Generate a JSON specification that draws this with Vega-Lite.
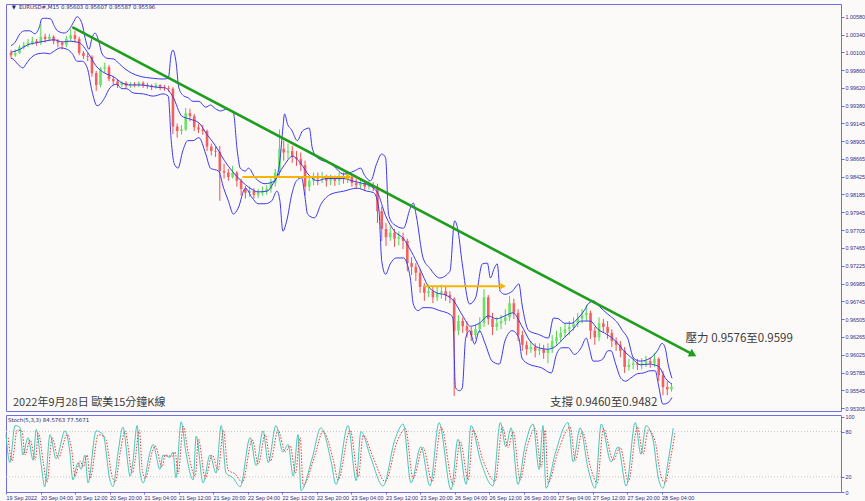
{
"$schema": "https://vega.github.io/schema/vega-lite/v6.json",
"background": "#fcfaf8",
"padding": {"left": 3, "top": 3, "right": 0, "bottom": 0},
"spacing": 1,
"config": {
  "view": {"stroke": "#7070dc", "strokeWidth": 1, "fill": "#fcfaf8"},
  "axis": {"labelFont": "Liberation Sans", "labelFontSize": 5.4, "labelColor": "#2e2e8a", "tickColor": "#6a6ad8", "domain": false, "grid": false, "labelOverlap": false},
  "text": {"font": "Liberation Sans"}
},
"datasets": {
"c": [
{"h":0,"o":1.0009,"hi":1.0013,"lo":1.0002,"c":1.0006},{"h":1,"o":1.0006,"hi":1.0014,"lo":1.0004,"c":1.0009},{"h":2,"o":1.0009,"hi":1.0020,"lo":1.0008,"c":1.0017},{"h":3,"o":1.0017,"hi":1.0024,"lo":1.0014,"c":1.0020},{"h":4,"o":1.0020,"hi":1.0028,"lo":1.0017,"c":1.0023},{"h":5,"o":1.0023,"hi":1.0031,"lo":1.0020,"c":1.0025},{"h":6,"o":1.0025,"hi":1.0028,"lo":1.0019,"c":1.0023},{"h":7,"o":1.0023,"hi":1.0048,"lo":1.0020,"c":1.0031},{"h":8,"o":1.0031,"hi":1.0035,"lo":1.0023,"c":1.0028},{"h":9,"o":1.0028,"hi":1.0035,"lo":1.0025,"c":1.0031},
{"h":10,"o":1.0031,"hi":1.0033,"lo":1.0021,"c":1.0025},{"h":11,"o":1.0025,"hi":1.0028,"lo":1.0017,"c":1.0023},{"h":12,"o":1.0023,"hi":1.0025,"lo":1.0014,"c":1.0020},{"h":13,"o":1.0020,"hi":1.0032,"lo":1.0017,"c":1.0028},{"h":14,"o":1.0028,"hi":1.0041,"lo":1.0025,"c":1.0033},{"h":15,"o":1.0033,"hi":1.0039,"lo":1.0023,"c":1.0028},{"h":16,"o":1.0028,"hi":1.0031,"lo":1.0006,"c":1.0009},{"h":17,"o":1.0009,"hi":1.0012,"lo":1.0001,"c":1.0005},{"h":18,"o":1.0005,"hi":1.0009,"lo":0.9998,"c":1.0004},{"h":19,"o":1.0004,"hi":1.0006,"lo":0.9977,"c":0.9982},
{"h":20,"o":0.9982,"hi":0.9985,"lo":0.9958,"c":0.9966},{"h":21,"o":0.9966,"hi":0.9990,"lo":0.9963,"c":0.9988},{"h":22,"o":0.9988,"hi":0.9996,"lo":0.9982,"c":0.9990},{"h":23,"o":0.9990,"hi":0.9993,"lo":0.9971,"c":0.9974},{"h":24,"o":0.9974,"hi":0.9978,"lo":0.9966,"c":0.9971},{"h":25,"o":0.9971,"hi":0.9974,"lo":0.9962,"c":0.9966},{"h":26,"o":0.9966,"hi":0.9971,"lo":0.9963,"c":0.9969},{"h":27,"o":0.9969,"hi":0.9971,"lo":0.9961,"c":0.9965},{"h":28,"o":0.9965,"hi":0.9970,"lo":0.9962,"c":0.9967},{"h":29,"o":0.9967,"hi":0.9970,"lo":0.9963,"c":0.9966},
{"h":30,"o":0.9966,"hi":0.9971,"lo":0.9963,"c":0.9969},{"h":31,"o":0.9969,"hi":0.9971,"lo":0.9962,"c":0.9966},{"h":32,"o":0.9966,"hi":0.9969,"lo":0.9961,"c":0.9965},{"h":33,"o":0.9965,"hi":0.9967,"lo":0.9959,"c":0.9963},{"h":34,"o":0.9963,"hi":0.9969,"lo":0.9961,"c":0.9966},{"h":35,"o":0.9966,"hi":0.9967,"lo":0.9959,"c":0.9963},{"h":36,"o":0.9963,"hi":0.9966,"lo":0.9958,"c":0.9962},{"h":37,"o":0.9962,"hi":0.9965,"lo":0.9957,"c":0.9961},{"h":38,"o":0.9961,"hi":0.9963,"lo":0.9900,"c":0.9910},{"h":39,"o":0.9910,"hi":0.9914,"lo":0.9895,"c":0.9904},
{"h":40,"o":0.9904,"hi":0.9912,"lo":0.9899,"c":0.9906},{"h":41,"o":0.9906,"hi":0.9935,"lo":0.9904,"c":0.9928},{"h":42,"o":0.9928,"hi":0.9934,"lo":0.9917,"c":0.9924},{"h":43,"o":0.9924,"hi":0.9927,"lo":0.9904,"c":0.9909},{"h":44,"o":0.9909,"hi":0.9914,"lo":0.9901,"c":0.9906},{"h":45,"o":0.9906,"hi":0.9912,"lo":0.9899,"c":0.9904},{"h":46,"o":0.9904,"hi":0.9906,"lo":0.9877,"c":0.9883},{"h":47,"o":0.9883,"hi":0.9887,"lo":0.9871,"c":0.9877},{"h":48,"o":0.9877,"hi":0.9883,"lo":0.9869,"c":0.9876},{"h":49,"o":0.9876,"hi":0.9884,"lo":0.9810,"c":0.9850},
{"h":50,"o":0.9850,"hi":0.9860,"lo":0.9840,"c":0.9848},{"h":51,"o":0.9848,"hi":0.9853,"lo":0.9837,"c":0.9842},{"h":52,"o":0.9842,"hi":0.9857,"lo":0.9840,"c":0.9848},{"h":53,"o":0.9848,"hi":0.9850,"lo":0.9829,"c":0.9837},{"h":54,"o":0.9837,"hi":0.9840,"lo":0.9817,"c":0.9826},{"h":55,"o":0.9826,"hi":0.9830,"lo":0.9813,"c":0.9821},{"h":56,"o":0.9821,"hi":0.9829,"lo":0.9815,"c":0.9823},{"h":57,"o":0.9823,"hi":0.9827,"lo":0.9813,"c":0.9818},{"h":58,"o":0.9818,"hi":0.9826,"lo":0.9814,"c":0.9821},{"h":59,"o":0.9821,"hi":0.9829,"lo":0.9817,"c":0.9823},
{"h":60,"o":0.9823,"hi":0.9831,"lo":0.9818,"c":0.9826},{"h":61,"o":0.9826,"hi":0.9840,"lo":0.9821,"c":0.9834},{"h":62,"o":0.9834,"hi":0.9853,"lo":0.9829,"c":0.9848},{"h":63,"o":0.9848,"hi":0.9906,"lo":0.9844,"c":0.9880},{"h":64,"o":0.9880,"hi":0.9891,"lo":0.9864,"c":0.9875},{"h":65,"o":0.9875,"hi":0.9887,"lo":0.9866,"c":0.9877},{"h":66,"o":0.9877,"hi":0.9884,"lo":0.9861,"c":0.9869},{"h":67,"o":0.9869,"hi":0.9877,"lo":0.9857,"c":0.9866},{"h":68,"o":0.9866,"hi":0.9875,"lo":0.9850,"c":0.9858},{"h":69,"o":0.9858,"hi":0.9864,"lo":0.9817,"c":0.9829},
{"h":70,"o":0.9829,"hi":0.9842,"lo":0.9823,"c":0.9837},{"h":71,"o":0.9837,"hi":0.9848,"lo":0.9831,"c":0.9842},{"h":72,"o":0.9842,"hi":0.9848,"lo":0.9831,"c":0.9840},{"h":73,"o":0.9840,"hi":0.9849,"lo":0.9834,"c":0.9842},{"h":74,"o":0.9842,"hi":0.9845,"lo":0.9829,"c":0.9837},{"h":75,"o":0.9837,"hi":0.9845,"lo":0.9831,"c":0.9840},{"h":76,"o":0.9840,"hi":0.9844,"lo":0.9830,"c":0.9837},{"h":77,"o":0.9837,"hi":0.9848,"lo":0.9831,"c":0.9842},{"h":78,"o":0.9842,"hi":0.9848,"lo":0.9833,"c":0.9840},{"h":79,"o":0.9840,"hi":0.9850,"lo":0.9834,"c":0.9842},
{"h":80,"o":0.9842,"hi":0.9845,"lo":0.9829,"c":0.9834},{"h":81,"o":0.9834,"hi":0.9840,"lo":0.9826,"c":0.9831},{"h":82,"o":0.9831,"hi":0.9838,"lo":0.9826,"c":0.9834},{"h":83,"o":0.9834,"hi":0.9837,"lo":0.9823,"c":0.9829},{"h":84,"o":0.9829,"hi":0.9837,"lo":0.9825,"c":0.9831},{"h":85,"o":0.9831,"hi":0.9835,"lo":0.9823,"c":0.9829},{"h":86,"o":0.9829,"hi":0.9833,"lo":0.9780,"c":0.9796},{"h":87,"o":0.9796,"hi":0.9802,"lo":0.9756,"c":0.9772},{"h":88,"o":0.9772,"hi":0.9780,"lo":0.9749,"c":0.9761},{"h":89,"o":0.9761,"hi":0.9775,"lo":0.9756,"c":0.9767},
{"h":90,"o":0.9767,"hi":0.9772,"lo":0.9748,"c":0.9759},{"h":91,"o":0.9759,"hi":0.9769,"lo":0.9750,"c":0.9761},{"h":92,"o":0.9761,"hi":0.9767,"lo":0.9745,"c":0.9756},{"h":93,"o":0.9756,"hi":0.9759,"lo":0.9715,"c":0.9726},{"h":94,"o":0.9726,"hi":0.9734,"lo":0.9710,"c":0.9721},{"h":95,"o":0.9721,"hi":0.9726,"lo":0.9702,"c":0.9713},{"h":96,"o":0.9713,"hi":0.9718,"lo":0.9686,"c":0.9694},{"h":97,"o":0.9694,"hi":0.9699,"lo":0.9675,"c":0.9686},{"h":98,"o":0.9686,"hi":0.9697,"lo":0.9680,"c":0.9688},{"h":99,"o":0.9688,"hi":0.9694,"lo":0.9672,"c":0.9680},
{"h":100,"o":0.9680,"hi":0.9694,"lo":0.9675,"c":0.9686},{"h":101,"o":0.9686,"hi":0.9697,"lo":0.9678,"c":0.9688},{"h":102,"o":0.9688,"hi":0.9694,"lo":0.9675,"c":0.9683},{"h":103,"o":0.9683,"hi":0.9688,"lo":0.9672,"c":0.9680},{"h":104,"o":0.9678,"hi":0.9680,"lo":0.9547,"c":0.9635},{"h":105,"o":0.9635,"hi":0.9656,"lo":0.9629,"c":0.9648},{"h":106,"o":0.9648,"hi":0.9653,"lo":0.9632,"c":0.9641},{"h":107,"o":0.9641,"hi":0.9648,"lo":0.9626,"c":0.9635},{"h":108,"o":0.9635,"hi":0.9640,"lo":0.9621,"c":0.9629},{"h":109,"o":0.9629,"hi":0.9643,"lo":0.9624,"c":0.9637},
{"h":110,"o":0.9637,"hi":0.9653,"lo":0.9632,"c":0.9645},{"h":111,"o":0.9645,"hi":0.9691,"lo":0.9640,"c":0.9680},{"h":112,"o":0.9680,"hi":0.9683,"lo":0.9643,"c":0.9651},{"h":113,"o":0.9651,"hi":0.9659,"lo":0.9629,"c":0.9640},{"h":114,"o":0.9640,"hi":0.9653,"lo":0.9635,"c":0.9645},{"h":115,"o":0.9645,"hi":0.9656,"lo":0.9637,"c":0.9648},{"h":116,"o":0.9648,"hi":0.9664,"lo":0.9643,"c":0.9653},{"h":117,"o":0.9653,"hi":0.9682,"lo":0.9648,"c":0.9672},{"h":118,"o":0.9672,"hi":0.9678,"lo":0.9651,"c":0.9659},{"h":119,"o":0.9659,"hi":0.9664,"lo":0.9621,"c":0.9629},
{"h":120,"o":0.9629,"hi":0.9635,"lo":0.9608,"c":0.9616},{"h":121,"o":0.9616,"hi":0.9621,"lo":0.9602,"c":0.9610},{"h":122,"o":0.9610,"hi":0.9621,"lo":0.9605,"c":0.9613},{"h":123,"o":0.9613,"hi":0.9618,"lo":0.9599,"c":0.9608},{"h":124,"o":0.9608,"hi":0.9618,"lo":0.9602,"c":0.9610},{"h":125,"o":0.9610,"hi":0.9616,"lo":0.9597,"c":0.9605},{"h":126,"o":0.9605,"hi":0.9618,"lo":0.9591,"c":0.9610},{"h":127,"o":0.9610,"hi":0.9629,"lo":0.9605,"c":0.9621},{"h":128,"o":0.9621,"hi":0.9635,"lo":0.9616,"c":0.9626},{"h":129,"o":0.9626,"hi":0.9640,"lo":0.9621,"c":0.9632},
{"h":130,"o":0.9632,"hi":0.9645,"lo":0.9626,"c":0.9637},{"h":131,"o":0.9637,"hi":0.9648,"lo":0.9629,"c":0.9640},{"h":132,"o":0.9640,"hi":0.9653,"lo":0.9635,"c":0.9645},{"h":133,"o":0.9645,"hi":0.9659,"lo":0.9640,"c":0.9651},{"h":134,"o":0.9651,"hi":0.9664,"lo":0.9645,"c":0.9656},{"h":135,"o":0.9656,"hi":0.9670,"lo":0.9648,"c":0.9659},{"h":136,"o":0.9659,"hi":0.9662,"lo":0.9624,"c":0.9635},{"h":137,"o":0.9635,"hi":0.9640,"lo":0.9616,"c":0.9626},{"h":138,"o":0.9626,"hi":0.9653,"lo":0.9621,"c":0.9645},{"h":139,"o":0.9645,"hi":0.9651,"lo":0.9632,"c":0.9640},
{"h":140,"o":0.9640,"hi":0.9648,"lo":0.9624,"c":0.9632},{"h":141,"o":0.9632,"hi":0.9637,"lo":0.9613,"c":0.9621},{"h":142,"o":0.9621,"hi":0.9626,"lo":0.9608,"c":0.9616},{"h":143,"o":0.9616,"hi":0.9621,"lo":0.9599,"c":0.9608},{"h":144,"o":0.9608,"hi":0.9613,"lo":0.9578,"c":0.9586},{"h":145,"o":0.9586,"hi":0.9597,"lo":0.9581,"c":0.9589},{"h":146,"o":0.9589,"hi":0.9599,"lo":0.9583,"c":0.9591},{"h":147,"o":0.9591,"hi":0.9597,"lo":0.9582,"c":0.9589},{"h":148,"o":0.9589,"hi":0.9598,"lo":0.9583,"c":0.9591},{"h":149,"o":0.9591,"hi":0.9601,"lo":0.9586,"c":0.9594},
{"h":150,"o":0.9594,"hi":0.9599,"lo":0.9585,"c":0.9591},{"h":151,"o":0.9591,"hi":0.9605,"lo":0.9586,"c":0.9597},{"h":152,"o":0.9597,"hi":0.9599,"lo":0.9567,"c":0.9575},{"h":153,"o":0.9575,"hi":0.9581,"lo":0.9548,"c":0.9559},{"h":154,"o":0.9559,"hi":0.9567,"lo":0.9548,"c":0.9556},{"h":155,"o":0.9556,"hi":0.9564,"lo":0.9553,"c":0.95596}
],
"b": [
{"b":"u","h":0,"p":1.0019},{"b":"u","h":0.9,"p":1.0023},{"b":"u","h":2.1,"p":1.0035},{"b":"u","h":3.2,"p":1.0039},{"b":"u","h":4.4,"p":1.0039},{"b":"u","h":5.6,"p":1.0035},{"b":"u","h":6.7,"p":1.0045},{"b":"u","h":7.2,"p":1.0055},{"b":"u","h":7.9,"p":1.0056},{"b":"u","h":9.3,"p":1.0055},{"b":"u","h":10.2,"p":1.0045},{"b":"u","h":10.9,"p":1.0039},{"b":"u","h":12.5,"p":1.0036},{"b":"u","h":13.7,"p":1.0041},{"b":"u","h":14.8,"p":1.0052},{"b":"u","h":15.5,"p":1.0058},{"b":"u","h":16.7,"p":1.0048},{"b":"u","h":17.4,"p":1.0029},{"b":"u","h":18.3,"p":1.0014},{"b":"u","h":19.0,"p":1.0029},{"b":"u","h":19.7,"p":1.0036},{"b":"u","h":20.6,"p":1.0025},{"b":"u","h":21.3,"p":1.0009},{"b":"u","h":22.5,"p":1.0002},{"b":"u","h":24.1,"p":1.0001},{"b":"u","h":25.5,"p":0.9994},{"b":"u","h":26.7,"p":0.9988},{"b":"u","h":28.3,"p":0.9982},{"b":"u","h":30.1,"p":0.9978},{"b":"u","h":33.4,"p":0.9975},{"b":"u","h":35.7,"p":0.9974},{"b":"u","h":36.9,"p":0.9975},{"b":"u","h":37.6,"p":1.0008},{"b":"u","h":38.0,"p":1.0013},{"b":"u","h":38.7,"p":0.9998},{"b":"u","h":39.4,"p":0.9962},{"b":"u","h":40.6,"p":0.9951},{"b":"u","h":41.5,"p":0.9949},{"b":"u","h":42.7,"p":0.9944},{"b":"u","h":44.1,"p":0.9944},{"b":"u","h":45.7,"p":0.9936},{"b":"u","h":46.8,"p":0.9939},{"b":"u","h":48.0,"p":0.9934},{"b":"u","h":49.2,"p":0.9931},{"b":"u","h":50.8,"p":0.9934},{"b":"u","h":52.2,"p":0.9928},{"b":"u","h":53.1,"p":0.9877},{"b":"u","h":53.8,"p":0.9854},{"b":"u","h":55.0,"p":0.9850},{"b":"u","h":55.7,"p":0.9854},{"b":"u","h":57.3,"p":0.9841},{"b":"u","h":59.6,"p":0.9833},{"b":"u","h":61.9,"p":0.9837},{"b":"u","h":63.1,"p":0.9864},{"b":"u","h":63.8,"p":0.9908},{"b":"u","h":64.2,"p":0.9927},{"b":"u","h":64.9,"p":0.9913},{"b":"u","h":65.8,"p":0.9906},{"b":"u","h":67.2,"p":0.9891},{"b":"u","h":68.4,"p":0.9904},{"b":"u","h":70.0,"p":0.9908},{"b":"u","h":70.7,"p":0.9881},{"b":"u","h":71.9,"p":0.9868},{"b":"u","h":75.1,"p":0.9860},{"b":"u","h":78.1,"p":0.9846},{"b":"u","h":80.5,"p":0.9850},{"b":"u","h":82.1,"p":0.9854},{"b":"u","h":82.8,"p":0.9846},{"b":"u","h":84.4,"p":0.9837},{"b":"u","h":85.8,"p":0.9860},{"b":"u","h":87.0,"p":0.9873},{"b":"u","h":87.9,"p":0.9868},{"b":"u","h":88.6,"p":0.9792},{"b":"u","h":89.7,"p":0.9779},{"b":"u","h":92.1,"p":0.9773},{"b":"u","h":93.7,"p":0.9800},{"b":"u","h":94.4,"p":0.9807},{"b":"u","h":95.1,"p":0.9790},{"b":"u","h":96.7,"p":0.9733},{"b":"u","h":98.3,"p":0.9719},{"b":"u","h":100.6,"p":0.9706},{"b":"u","h":103.0,"p":0.9715},{"b":"u","h":104.1,"p":0.9783},{"b":"u","h":104.8,"p":0.9773},{"b":"u","h":105.9,"p":0.9725},{"b":"u","h":107.6,"p":0.9671},{"b":"u","h":109.0,"p":0.9679},{"b":"u","h":110.6,"p":0.9725},{"b":"u","h":111.8,"p":0.9726},{"b":"u","h":112.5,"p":0.9706},{"b":"u","h":113.4,"p":0.9719},{"b":"u","h":114.1,"p":0.9725},{"b":"u","h":114.8,"p":0.9688},{"b":"u","h":115.9,"p":0.9684},{"b":"u","h":117.6,"p":0.9688},{"b":"u","h":119.2,"p":0.9698},{"b":"u","h":119.9,"p":0.9671},{"b":"u","h":121.5,"p":0.9635},{"b":"u","h":123.8,"p":0.9630},{"b":"u","h":126.1,"p":0.9625},{"b":"u","h":127.3,"p":0.9652},{"b":"u","h":128.5,"p":0.9651},{"b":"u","h":129.9,"p":0.9645},{"b":"u","h":131.5,"p":0.9645},{"b":"u","h":133.1,"p":0.9652},{"b":"u","h":134.5,"p":0.9662},{"b":"u","h":135.6,"p":0.9672},{"b":"u","h":136.8,"p":0.9675},{"b":"u","h":138.0,"p":0.9668},{"b":"u","h":140.1,"p":0.9657},{"b":"u","h":141.2,"p":0.9652},{"b":"u","h":142.4,"p":0.9645},{"b":"u","h":143.5,"p":0.9635},{"b":"u","h":144.7,"p":0.9625},{"b":"u","h":146.1,"p":0.9598},{"b":"u","h":147.7,"p":0.9594},{"b":"u","h":150.0,"p":0.9598},{"b":"u","h":151.7,"p":0.9608},{"b":"u","h":152.8,"p":0.9618},{"b":"u","h":153.5,"p":0.9612},{"b":"u","h":154.2,"p":0.9590},{"b":"u","h":155.1,"p":0.9571},
{"b":"l","h":0,"p":1.0002},{"b":"l","h":0.5,"p":1.0001},{"b":"l","h":1.6,"p":0.9994},{"b":"l","h":2.8,"p":0.9989},{"b":"l","h":3.5,"p":0.9994},{"b":"l","h":4.4,"p":1.0001},{"b":"l","h":6.3,"p":1.0008},{"b":"l","h":7.9,"p":1.0009},{"b":"l","h":9.0,"p":1.0008},{"b":"l","h":10.2,"p":1.0012},{"b":"l","h":11.6,"p":1.0016},{"b":"l","h":13.2,"p":1.0014},{"b":"l","h":14.4,"p":1.0008},{"b":"l","h":15.5,"p":0.9998},{"b":"l","h":16.7,"p":0.9998},{"b":"l","h":17.9,"p":0.9989},{"b":"l","h":19.0,"p":0.9958},{"b":"l","h":20.2,"p":0.9938},{"b":"l","h":20.9,"p":0.9940},{"b":"l","h":22.0,"p":0.9949},{"b":"l","h":23.2,"p":0.9962},{"b":"l","h":24.8,"p":0.9967},{"b":"l","h":26.0,"p":0.9961},{"b":"l","h":27.1,"p":0.9961},{"b":"l","h":28.8,"p":0.9955},{"b":"l","h":31.1,"p":0.9954},{"b":"l","h":33.4,"p":0.9951},{"b":"l","h":35.7,"p":0.9954},{"b":"l","h":36.9,"p":0.9951},{"b":"l","h":37.6,"p":0.9891},{"b":"l","h":38.3,"p":0.9860},{"b":"l","h":39.2,"p":0.9854},{"b":"l","h":40.3,"p":0.9877},{"b":"l","h":41.5,"p":0.9891},{"b":"l","h":42.7,"p":0.9891},{"b":"l","h":44.1,"p":0.9895},{"b":"l","h":45.7,"p":0.9873},{"b":"l","h":46.8,"p":0.9854},{"b":"l","h":48.7,"p":0.9850},{"b":"l","h":49.9,"p":0.9827},{"b":"l","h":51.0,"p":0.9810},{"b":"l","h":52.2,"p":0.9792},{"b":"l","h":53.3,"p":0.9800},{"b":"l","h":55.0,"p":0.9827},{"b":"l","h":56.6,"p":0.9814},{"b":"l","h":58.0,"p":0.9806},{"b":"l","h":59.6,"p":0.9806},{"b":"l","h":61.2,"p":0.9810},{"b":"l","h":62.4,"p":0.9823},{"b":"l","h":63.1,"p":0.9810},{"b":"l","h":63.8,"p":0.9769},{"b":"l","h":64.7,"p":0.9783},{"b":"l","h":65.9,"p":0.9819},{"b":"l","h":67.0,"p":0.9837},{"b":"l","h":68.2,"p":0.9841},{"b":"l","h":68.9,"p":0.9819},{"b":"l","h":69.6,"p":0.9792},{"b":"l","h":71.2,"p":0.9787},{"b":"l","h":72.8,"p":0.9806},{"b":"l","h":75.1,"p":0.9819},{"b":"l","h":78.1,"p":0.9823},{"b":"l","h":81.2,"p":0.9827},{"b":"l","h":83.5,"p":0.9823},{"b":"l","h":85.1,"p":0.9821},{"b":"l","h":86.3,"p":0.9800},{"b":"l","h":87.0,"p":0.9729},{"b":"l","h":87.9,"p":0.9711},{"b":"l","h":89.0,"p":0.9725},{"b":"l","h":90.4,"p":0.9733},{"b":"l","h":92.1,"p":0.9733},{"b":"l","h":93.7,"p":0.9706},{"b":"l","h":94.4,"p":0.9671},{"b":"l","h":95.5,"p":0.9662},{"b":"l","h":96.7,"p":0.9666},{"b":"l","h":98.3,"p":0.9666},{"b":"l","h":100.6,"p":0.9662},{"b":"l","h":103.0,"p":0.9657},{"b":"l","h":103.7,"p":0.9652},{"b":"l","h":104.3,"p":0.9558},{"b":"l","h":105.3,"p":0.9554},{"b":"l","h":105.9,"p":0.9558},{"b":"l","h":106.7,"p":0.9625},{"b":"l","h":107.6,"p":0.9635},{"b":"l","h":108.8,"p":0.9617},{"b":"l","h":109.9,"p":0.9635},{"b":"l","h":111.3,"p":0.9617},{"b":"l","h":112.9,"p":0.9594},{"b":"l","h":114.6,"p":0.9590},{"b":"l","h":115.9,"p":0.9621},{"b":"l","h":117.6,"p":0.9635},{"b":"l","h":119.2,"p":0.9625},{"b":"l","h":119.9,"p":0.9598},{"b":"l","h":121.5,"p":0.9590},{"b":"l","h":124.5,"p":0.9585},{"b":"l","h":126.8,"p":0.9578},{"b":"l","h":128.0,"p":0.9603},{"b":"l","h":129.2,"p":0.9612},{"b":"l","h":130.8,"p":0.9612},{"b":"l","h":132.2,"p":0.9603},{"b":"l","h":133.8,"p":0.9612},{"b":"l","h":135.0,"p":0.9625},{"b":"l","h":135.7,"p":0.9612},{"b":"l","h":136.6,"p":0.9594},{"b":"l","h":137.7,"p":0.9594},{"b":"l","h":138.9,"p":0.9597},{"b":"l","h":140.1,"p":0.9608},{"b":"l","h":140.8,"p":0.9608},{"b":"l","h":141.9,"p":0.9590},{"b":"l","h":143.1,"p":0.9571},{"b":"l","h":144.2,"p":0.9567},{"b":"l","h":145.4,"p":0.9571},{"b":"l","h":147.0,"p":0.9577},{"b":"l","h":148.4,"p":0.9578},{"b":"l","h":150.0,"p":0.9581},{"b":"l","h":151.2,"p":0.9581},{"b":"l","h":151.9,"p":0.9563},{"b":"l","h":153.0,"p":0.9536},{"b":"l","h":154.2,"p":0.9538},{"b":"l","h":155.1,"p":0.9545},
{"b":"m","h":0,"p":1.0010},{"b":"m","h":2.1,"p":1.0014},{"b":"m","h":3.9,"p":1.0020},{"b":"m","h":6.0,"p":1.0023},{"b":"m","h":7.9,"p":1.0025},{"b":"m","h":10.0,"p":1.0027},{"b":"m","h":12.1,"p":1.0024},{"b":"m","h":13.9,"p":1.0025},{"b":"m","h":16.0,"p":1.0023},{"b":"m","h":18.1,"p":1.0009},{"b":"m","h":19.9,"p":0.9992},{"b":"m","h":22.0,"p":0.9982},{"b":"m","h":24.1,"p":0.9977},{"b":"m","h":26.0,"p":0.9969},{"b":"m","h":28.1,"p":0.9966},{"b":"m","h":30.1,"p":0.9966},{"b":"m","h":32.0,"p":0.9965},{"b":"m","h":34.1,"p":0.9963},{"b":"m","h":36.2,"p":0.9962},{"b":"m","h":38.0,"p":0.9950},{"b":"m","h":40.1,"p":0.9924},{"b":"m","h":42.0,"p":0.9920},{"b":"m","h":44.1,"p":0.9915},{"b":"m","h":45.9,"p":0.9900},{"b":"m","h":48.0,"p":0.9884},{"b":"m","h":50.1,"p":0.9864},{"b":"m","h":51.9,"p":0.9850},{"b":"m","h":54.0,"p":0.9837},{"b":"m","h":56.1,"p":0.9827},{"b":"m","h":58.0,"p":0.9822},{"b":"m","h":60.1,"p":0.9823},{"b":"m","h":61.9,"p":0.9837},{"b":"m","h":64.0,"p":0.9857},{"b":"m","h":66.1,"p":0.9870},{"b":"m","h":67.9,"p":0.9861},{"b":"m","h":70.0,"p":0.9844},{"b":"m","h":71.9,"p":0.9837},{"b":"m","h":74.0,"p":0.9840},{"b":"m","h":76.1,"p":0.9840},{"b":"m","h":77.9,"p":0.9840},{"b":"m","h":80.0,"p":0.9837},{"b":"m","h":82.1,"p":0.9834},{"b":"m","h":83.9,"p":0.9831},{"b":"m","h":86.0,"p":0.9821},{"b":"m","h":87.9,"p":0.9790},{"b":"m","h":90.0,"p":0.9769},{"b":"m","h":92.1,"p":0.9759},{"b":"m","h":93.9,"p":0.9742},{"b":"m","h":96.0,"p":0.9718},{"b":"m","h":97.9,"p":0.9695},{"b":"m","h":99.9,"p":0.9686},{"b":"m","h":102.0,"p":0.9683},{"b":"m","h":103.9,"p":0.9675},{"b":"m","h":106.0,"p":0.9655},{"b":"m","h":107.8,"p":0.9641},{"b":"m","h":109.9,"p":0.9645},{"b":"m","h":112.0,"p":0.9655},{"b":"m","h":113.9,"p":0.9651},{"b":"m","h":115.9,"p":0.9655},{"b":"m","h":117.8,"p":0.9659},{"b":"m","h":119.9,"p":0.9641},{"b":"m","h":121.8,"p":0.9621},{"b":"m","h":123.8,"p":0.9612},{"b":"m","h":125.9,"p":0.9610},{"b":"m","h":127.8,"p":0.9614},{"b":"m","h":129.9,"p":0.9626},{"b":"m","h":131.9,"p":0.9637},{"b":"m","h":133.8,"p":0.9648},{"b":"m","h":135.9,"p":0.9648},{"b":"m","h":137.7,"p":0.9637},{"b":"m","h":139.8,"p":0.9630},{"b":"m","h":141.9,"p":0.9621},{"b":"m","h":143.8,"p":0.9608},{"b":"m","h":145.9,"p":0.9597},{"b":"m","h":147.7,"p":0.9589},{"b":"m","h":149.8,"p":0.9590},{"b":"m","h":151.9,"p":0.9587},{"b":"m","h":153.7,"p":0.9570},{"b":"m","h":155.1,"p":0.9563}
],
"ar": [
{"k":"g","h":14.38,"p":1.0044,"h2":160.0,"p2":0.9603},
{"k":"o","h":54.3,"p":0.9842,"h2":79.1,"p2":0.9842},
{"k":"o","h":96.7,"p":0.9695,"h2":115.3,"p2":0.9695}
],
"ah": [
{"k":"g","h":160.05,"p":0.9603},
{"k":"o","h":79.3,"p":0.9842},
{"k":"o","h":115.5,"p":0.9695}
],
"ann": [
{"h":0.46,"p":0.9538,"t":"2022年9月28日 歐美15分鐘K線","s":"a"},
{"h":126.5,"p":0.9538,"t":"支撐 0.9460至0.9482","s":"b"},
{"h":158.3,"p":0.9624,"t":"壓力 0.9576至0.9599","s":"b"}
],
"hdr": [
{"h":0.2,"p":1.0071,"t":"▼"},
{"h":1.86,"p":1.0071,"t":"EURUSD#,M15  0.95603 0.95607 0.95587 0.95596"}
],
"k": [
{"h":0,"v":76},{"h":0.9,"v":39},{"h":2.1,"v":88},{"h":3.2,"v":86},{"h":3.9,"v":49},{"h":5.1,"v":72},{"h":6.3,"v":42},{"h":7.0,"v":83},{"h":8.1,"v":39},{"h":9.0,"v":7},{"h":10.2,"v":76},{"h":11.6,"v":44},{"h":13.7,"v":81},{"h":14.8,"v":53},{"h":15.5,"v":16},{"h":16.7,"v":39},{"h":17.4,"v":30},{"h":18.3,"v":49},{"h":19.0,"v":12},{"h":20.9,"v":81},{"h":22.5,"v":76},{"h":24.1,"v":16},{"h":24.8,"v":7},{"h":26.0,"v":53},{"h":27.1,"v":86},{"h":28.8,"v":21},{"h":29.4,"v":39},{"h":30.4,"v":88},{"h":31.1,"v":25},{"h":31.8,"v":12},{"h":33.4,"v":53},{"h":34.1,"v":63},{"h":35.7,"v":30},{"h":36.4,"v":49},{"h":38.0,"v":46},{"h":38.7,"v":53},{"h":39.4,"v":19},{"h":40.6,"v":93},{"h":41.7,"v":53},{"h":43.4,"v":16},{"h":44.1,"v":74},{"h":45.7,"v":12},{"h":47.3,"v":49},{"h":48.7,"v":25},{"h":49.9,"v":88},{"h":51.0,"v":25},{"h":52.6,"v":19},{"h":54.3,"v":7},{"h":56.6,"v":72},{"h":58.0,"v":35},{"h":59.6,"v":81},{"h":60.8,"v":39},{"h":62.6,"v":88},{"h":64.2,"v":53},{"h":65.4,"v":63},{"h":66.6,"v":21},{"h":67.7,"v":76},{"h":68.4,"v":2},{"h":71.0,"v":45},{"h":73.0,"v":85},{"h":75.4,"v":40},{"h":76.5,"v":10},{"h":79.3,"v":88},{"h":81.2,"v":15},{"h":82.3,"v":80},{"h":84.6,"v":45},{"h":87.4,"v":8},{"h":90.2,"v":70},{"h":92.1,"v":90},{"h":93.9,"v":12},{"h":96.2,"v":60},{"h":98.3,"v":8},{"h":100.4,"v":92},{"h":103.2,"v":3},{"h":104.8,"v":70},{"h":106.7,"v":10},{"h":107.8,"v":88},{"h":110.1,"v":40},{"h":112.9,"v":8},{"h":114.6,"v":92},{"h":115.9,"v":60},{"h":117.1,"v":85},{"h":118.7,"v":10},{"h":120.3,"v":60},{"h":122.2,"v":90},{"h":123.6,"v":30},{"h":124.5,"v":88},{"h":125.2,"v":5},{"h":127.3,"v":50},{"h":130.3,"v":92},{"h":131.5,"v":40},{"h":133.1,"v":85},{"h":135.0,"v":30},{"h":136.6,"v":5},{"h":138.0,"v":90},{"h":140.3,"v":40},{"h":141.9,"v":60},{"h":143.8,"v":8},{"h":145.9,"v":92},{"h":147.2,"v":50},{"h":148.4,"v":88},{"h":150.0,"v":70},{"h":151.2,"v":20},{"h":152.3,"v":5},{"h":153.5,"v":40},{"h":154.7,"v":84.58}
],
"d": [
{"h":0.5,"v":72},{"h":1.4,"v":41},{"h":2.6,"v":82},{"h":3.7,"v":81},{"h":4.4,"v":49},{"h":5.6,"v":69},{"h":6.8,"v":43},{"h":7.5,"v":78},{"h":8.6,"v":41},{"h":9.5,"v":13},{"h":10.7,"v":72},{"h":12.1,"v":45},{"h":14.2,"v":76},{"h":15.3,"v":53},{"h":16.0,"v":21},{"h":17.2,"v":41},{"h":17.9,"v":33},{"h":18.8,"v":49},{"h":19.5,"v":18},{"h":21.4,"v":76},{"h":23.0,"v":72},{"h":24.6,"v":21},{"h":25.3,"v":13},{"h":26.5,"v":53},{"h":27.6,"v":81},{"h":29.3,"v":25},{"h":29.9,"v":41},{"h":30.9,"v":82},{"h":31.6,"v":29},{"h":32.3,"v":18},{"h":33.9,"v":53},{"h":34.6,"v":61},{"h":36.2,"v":33},{"h":36.9,"v":49},{"h":38.5,"v":47},{"h":39.2,"v":53},{"h":39.9,"v":24},{"h":41.1,"v":87},{"h":42.2,"v":53},{"h":43.9,"v":21},{"h":44.6,"v":70},{"h":46.2,"v":18},{"h":47.8,"v":49},{"h":49.2,"v":29},{"h":50.4,"v":82},{"h":51.5,"v":29},{"h":53.1,"v":24},{"h":54.8,"v":13},{"h":57.1,"v":69},{"h":58.5,"v":37},{"h":60.1,"v":76},{"h":61.3,"v":41},{"h":63.1,"v":82},{"h":64.7,"v":53},{"h":65.9,"v":61},{"h":67.1,"v":25},{"h":68.2,"v":72},{"h":68.9,"v":9},{"h":71.5,"v":46},{"h":73.5,"v":80},{"h":75.9,"v":42},{"h":77.0,"v":16},{"h":79.8,"v":82},{"h":81.7,"v":20},{"h":82.8,"v":75},{"h":85.1,"v":46},{"h":87.9,"v":14},{"h":90.7,"v":67},{"h":92.6,"v":84},{"h":94.4,"v":18},{"h":96.7,"v":59},{"h":98.8,"v":14},{"h":100.9,"v":86},{"h":103.7,"v":10},{"h":105.3,"v":67},{"h":107.2,"v":16},{"h":108.3,"v":82},{"h":110.6,"v":42},{"h":113.4,"v":14},{"h":115.1,"v":86},{"h":116.4,"v":59},{"h":117.6,"v":80},{"h":119.2,"v":16},{"h":120.8,"v":59},{"h":122.7,"v":84},{"h":124.1,"v":33},{"h":125.0,"v":82},{"h":125.7,"v":12},{"h":127.8,"v":50},{"h":130.8,"v":86},{"h":132.0,"v":42},{"h":133.6,"v":80},{"h":135.5,"v":33},{"h":137.1,"v":12},{"h":138.5,"v":84},{"h":140.8,"v":42},{"h":142.4,"v":59},{"h":144.3,"v":14},{"h":146.4,"v":86},{"h":147.7,"v":50},{"h":148.9,"v":82},{"h":150.5,"v":67},{"h":151.7,"v":25},{"h":152.8,"v":12},{"h":154.0,"v":42},{"h":155.1,"v":77.57}
],
"lv": [{"v":20},{"v":80}],
"sh": [{"h":0.46,"v":95.5,"t":"Stoch(5,3,3) 84.5763 77.5671"}]
},
"vconcat": [
{
  "width": 835, "height": 407,
  "encoding": {"x": {"field": "h", "type": "quantitative", "scale": {"domain": [0, 193.6], "nice": false, "zero": false}, "axis": null}},
  "layer": [
    {"data": {"name": "c"}, "mark": {"type": "rule", "strokeWidth": 1},
     "encoding": {
       "y": {"field": "lo", "type": "quantitative", "title": null, "scale": {"domain": [0.95268, 1.00751], "nice": false, "zero": false},
             "axis": {"orient": "right", "values": [1.0058, 1.0034, 1.001, 0.9986, 0.9962, 0.9938, 0.99145, 0.98905, 0.98665, 0.98425, 0.98185, 0.97945, 0.97705, 0.97465, 0.97225, 0.96985, 0.96745, 0.96505, 0.96265, 0.96025, 0.95785, 0.95545, 0.95305], "tickCount": 60, "format": ".5f", "tickSize": 3, "labelPadding": 1, "labelOverlap": false, "title": null}},
       "y2": {"field": "hi"},
       "color": {"condition": {"test": "datum.c >= datum.o", "value": "#4cd64c"}, "value": "#f05050"}}},
    {"data": {"name": "c"}, "mark": {"type": "bar", "width": 2.6},
     "encoding": {
       "y": {"field": "o", "type": "quantitative", "title": null},
       "y2": {"field": "c"},
       "color": {"condition": {"test": "datum.c >= datum.o", "value": "#66e466"}, "value": "#f46060"}}},
    {"data": {"name": "b"}, "mark": {"type": "line", "strokeWidth": 1, "interpolate": "monotone", "color": "#3a3aee"},
     "encoding": {"y": {"field": "p", "type": "quantitative", "title": null}, "detail": {"field": "b"}}},
    {"data": {"name": "ar"}, "transform": [{"filter": "datum.k == 'g'"}], "mark": {"type": "rule", "strokeWidth": 2.6, "color": "#1e9e1e"},
     "encoding": {"y": {"field": "p", "type": "quantitative", "title": null}, "x2": {"field": "h2"}, "y2": {"field": "p2"}}},
    {"data": {"name": "ar"}, "transform": [{"filter": "datum.k == 'o'"}], "mark": {"type": "rule", "strokeWidth": 2, "color": "#f7b400"},
     "encoding": {"y": {"field": "p", "type": "quantitative", "title": null}, "x2": {"field": "h2"}, "y2": {"field": "p2"}}},
    {"data": {"name": "ah"}, "transform": [{"filter": "datum.k == 'g'"}], "mark": {"type": "point", "shape": "triangle-right", "filled": true, "size": 75, "angle": 27.5, "color": "#1e9e1e", "opacity": 1},
     "encoding": {"y": {"field": "p", "type": "quantitative", "title": null}}},
    {"data": {"name": "ah"}, "transform": [{"filter": "datum.k == 'o'"}], "mark": {"type": "point", "shape": "triangle-right", "filled": true, "size": 40, "color": "#f7b400", "opacity": 1},
     "encoding": {"y": {"field": "p", "type": "quantitative", "title": null}}},
    {"data": {"name": "ann"}, "transform": [{"filter": "datum.s == 'a'"}], "mark": {"type": "text", "align": "left", "baseline": "middle", "font": "Noto Sans CJK TC", "fontSize": 11, "color": "#3c3c3c"},
     "encoding": {"y": {"field": "p", "type": "quantitative", "title": null}, "text": {"field": "t"}}},
    {"data": {"name": "ann"}, "transform": [{"filter": "datum.s == 'b'"}], "mark": {"type": "text", "align": "left", "baseline": "middle", "font": "Noto Sans CJK TC", "fontSize": 11.5, "color": "#3c3c3c"},
     "encoding": {"y": {"field": "p", "type": "quantitative", "title": null}, "text": {"field": "t"}}},
    {"data": {"name": "hdr"}, "mark": {"type": "text", "align": "left", "baseline": "middle", "font": "DejaVu Sans", "fontSize": 5.4, "color": "#24246e"},
     "encoding": {"y": {"field": "p", "type": "quantitative", "title": null}, "text": {"field": "t"}}},
    {"data": {"values": [{"t": "0.95596"}]}, "mark": {"type": "rect", "color": "#2020b4", "clip": false},
     "encoding": {"x": {"datum": 193.75, "type": "quantitative"}, "x2": {"datum": 199.4}, "y": {"datum": 0.95637, "type": "quantitative"}, "y2": {"datum": 0.95555}}},
    {"data": {"values": [{"t": "0.95596"}]}, "mark": {"type": "text", "align": "left", "baseline": "middle", "font": "Liberation Sans", "fontSize": 5.4, "color": "#ffffff", "clip": false},
     "encoding": {"x": {"datum": 194.5, "type": "quantitative"}, "y": {"datum": 0.95596, "type": "quantitative"}, "text": {"field": "t"}}}
  ]
},
{
  "width": 835, "height": 77,
  "layer": [
    {"data": {"name": "lv"}, "mark": {"type": "rule", "color": "#c4c4c4", "strokeDash": [1, 2], "strokeWidth": 1},
     "encoding": {"y": {"field": "v", "type": "quantitative", "title": null, "scale": {"domain": [0, 102], "nice": false, "zero": false},
       "axis": {"orient": "right", "values": [0, 20, 80, 100], "tickCount": 20, "format": "d", "tickSize": 3, "labelPadding": 1, "labelOverlap": false, "title": null}}}},
    {"data": {"name": "k"}, "mark": {"type": "line", "color": "#44c6b8", "strokeWidth": 1, "interpolate": "monotone"},
     "encoding": {
       "x": {"field": "h", "type": "quantitative", "title": null, "scale": {"domain": [0, 193.6], "nice": false, "zero": false},
         "axis": {"values": [0, 8, 16, 24, 32, 40, 48, 56, 64, 72, 80, 88, 96, 104, 112, 120, 128, 136, 144, 152], "tickCount": 60,
           "labelExpr": "['19 Sep 2022','20 Sep 04:00','20 Sep 12:00','20 Sep 20:00','21 Sep 04:00','21 Sep 12:00','21 Sep 20:00','22 Sep 04:00','22 Sep 12:00','22 Sep 20:00','23 Sep 04:00','23 Sep 12:00','23 Sep 20:00','26 Sep 04:00','26 Sep 12:00','26 Sep 20:00','27 Sep 04:00','27 Sep 12:00','27 Sep 20:00','28 Sep 04:00'][round(datum.value/8)]",
           "labelAlign": "left", "labelFlush": false, "labelOverlap": false, "labelBound": false, "tickSize": 2, "labelPadding": 1, "title": null}},
       "y": {"field": "v", "type": "quantitative", "title": null}}},
    {"data": {"name": "d"}, "mark": {"type": "line", "color": "#e83a3a", "strokeWidth": 1, "strokeDash": [1.5, 1.5], "interpolate": "monotone"},
     "encoding": {"x": {"field": "h", "type": "quantitative", "title": null}, "y": {"field": "v", "type": "quantitative", "title": null}}},
    {"data": {"name": "sh"}, "mark": {"type": "text", "align": "left", "baseline": "middle", "font": "DejaVu Sans", "fontSize": 5.4, "color": "#24246e"},
     "encoding": {"x": {"field": "h", "type": "quantitative", "title": null}, "y": {"field": "v", "type": "quantitative", "title": null}, "text": {"field": "t"}}}
  ]
}
]
}
